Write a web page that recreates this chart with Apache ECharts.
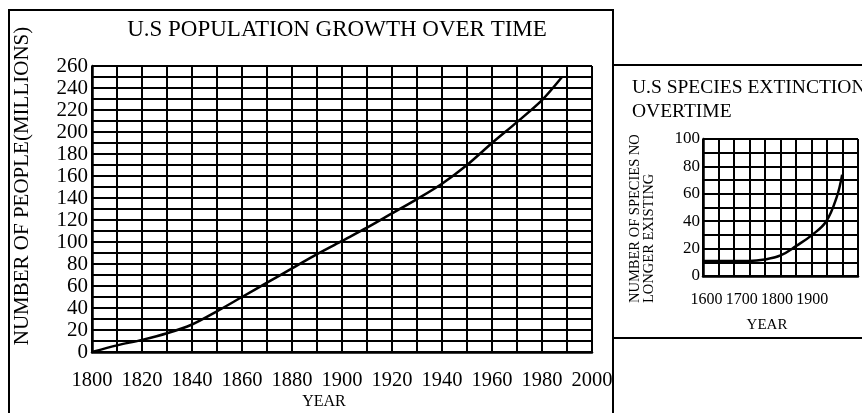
<!DOCTYPE html>
<html>
<head>
<meta charset="utf-8">
<script src="https://cdn.jsdelivr.net/npm/echarts@6/dist/echarts.min.js"></script>
<style>
html,body{margin:0;padding:0;background:#fff;}
#chart{width:862px;height:413px;}
</style>
</head>
<body>
<div id="chart"></div>
<script>
// ---- Data ----
const popTitle = 'U.S POPULATION GROWTH OVER TIME';
const popYears = [1800, 1810, 1820, 1830, 1840, 1850, 1860, 1870, 1880, 1890, 1900, 1910, 1920, 1930, 1940, 1950, 1960, 1970, 1980, 1988];
const popValues = [0, 6, 11, 17, 25, 37, 50, 63, 76, 89, 101, 113, 126, 139, 153, 170, 190, 209, 229, 250];
const popYName = 'NUMBER OF PEOPLE(MILLIONS)';
const popXName = 'YEAR';

const extTitle = ['U.S SPECIES EXTINCTION', 'OVERTIME'];
const extYears = [1590, 1680, 1720, 1765, 1810, 1855, 1900, 1940, 1970, 1985];
const extValues = [11, 11, 11, 12, 15, 22, 30, 40, 58, 74];
const extYName = ['NUMBER OF SPECIES NO', 'LONGER EXISTING'];
const extXName = 'YEAR';
const extXLabels = ['1600', '1700', '1800', '1900'];

const FONT = 'Liberation Serif';
const chart = echarts.init(document.getElementById('chart'), null, {renderer: 'canvas'});

const gridLine = {show: true, lineStyle: {color: '#000', width: 2}};
const axisLine = {show: true, lineStyle: {color: '#000', width: 2.5}};

const option = {
  backgroundColor: '#fff',
  animation: false,
  grid: [
    {left: 92, top: 66, width: 500, height: 286},
    {left: 703, top: 139, width: 155, height: 137}
  ],
  xAxis: [
    {
      gridIndex: 0, type: 'value', min: 1800, max: 2000, interval: 20,
      axisLine: axisLine, axisTick: {show: false},
      axisLabel: {color: '#000', fontFamily: FONT, fontSize: 20.5, margin: 18, formatter: function (v) { return String(v); }},
      splitLine: gridLine,
      minorTick: {show: false, splitNumber: 2},
      minorSplitLine: gridLine
    },
    {
      gridIndex: 1, type: 'value', min: 1590, max: 2030, interval: 10,
      axisLine: axisLine, axisTick: {show: false},
      axisLabel: {color: '#000', fontFamily: FONT, fontSize: 16, margin: 16, interval: 0,
        formatter: function (v) { const s = String(v); return extXLabels.indexOf(s) >= 0 ? s : ''; }},
      splitLine: {show: false}
    },
    {
      gridIndex: 1, type: 'value', min: 0, max: 10, interval: 1,
      axisLine: {show: false}, axisTick: {show: false}, axisLabel: {show: false},
      splitLine: gridLine
    }
  ],
  yAxis: [
    {
      gridIndex: 0, type: 'value', min: 0, max: 260, interval: 20,
      axisLine: axisLine, axisTick: {show: false},
      axisLabel: {color: '#000', fontFamily: FONT, fontSize: 21, margin: 4},
      splitLine: gridLine,
      minorTick: {show: false, splitNumber: 2},
      minorSplitLine: gridLine
    },
    {
      gridIndex: 1, type: 'value', min: 0, max: 100, interval: 20,
      axisLine: axisLine, axisTick: {show: false},
      axisLabel: {color: '#000', fontFamily: FONT, fontSize: 17, margin: 3},
      splitLine: gridLine,
      minorTick: {show: false, splitNumber: 2},
      minorSplitLine: gridLine
    }
  ],
  series: [
    {
      type: 'line', xAxisIndex: 0, yAxisIndex: 0,
      data: popYears.map((y, i) => [y, popValues[i]]),
      smooth: 0.3, symbol: 'none',
      lineStyle: {color: '#000', width: 2.5}, z: 10
    },
    {
      type: 'line', xAxisIndex: 1, yAxisIndex: 1,
      data: extYears.map((y, i) => [y, extValues[i]]),
      smooth: 0.4, symbol: 'none',
      lineStyle: {color: '#000', width: 2.5}, z: 10
    }
  ],
  graphic: [
    // frames
    {type: 'polyline', shape: {points: [[9, 420], [9, 10], [613, 10], [613, 420]]},
      style: {stroke: '#000', lineWidth: 2, fill: null}, silent: true},
    {type: 'polyline', shape: {points: [[870, 65], [613, 65], [613, 338], [870, 338]]},
      style: {stroke: '#000', lineWidth: 2, fill: null}, silent: true},
    // titles and names
    {type: 'text', x: 337, y: 30, style: {text: popTitle, font: '23px ' + FONT, fill: '#000', textAlign: 'center', textVerticalAlign: 'middle'}},
    {type: 'text', x: 22, y: 186, rotation: Math.PI / 2, style: {text: popYName, font: '21px ' + FONT, fill: '#000', textAlign: 'center', textVerticalAlign: 'middle'}},
    {type: 'text', x: 324, y: 402, style: {text: popXName, font: '16px ' + FONT, fill: '#000', textAlign: 'center', textVerticalAlign: 'middle'}},
    {type: 'text', x: 632, y: 88, style: {text: extTitle[0], font: '19.5px ' + FONT, fill: '#000', textAlign: 'left', textVerticalAlign: 'middle'}},
    {type: 'text', x: 632, y: 112, style: {text: extTitle[1], font: '19.5px ' + FONT, fill: '#000', textAlign: 'left', textVerticalAlign: 'middle'}},
    {type: 'text', x: 635, y: 303, rotation: Math.PI / 2, style: {text: extYName[0], font: '14.5px ' + FONT, fill: '#000', textAlign: 'left', textVerticalAlign: 'middle'}},
    {type: 'text', x: 649, y: 303, rotation: Math.PI / 2, style: {text: extYName[1], font: '14.5px ' + FONT, fill: '#000', textAlign: 'left', textVerticalAlign: 'middle'}},
    {type: 'text', x: 767, y: 325, style: {text: extXName, font: '15px ' + FONT, fill: '#000', textAlign: 'center', textVerticalAlign: 'middle'}}
  ]
};
chart.setOption(option);
</script>
</body>
</html>
